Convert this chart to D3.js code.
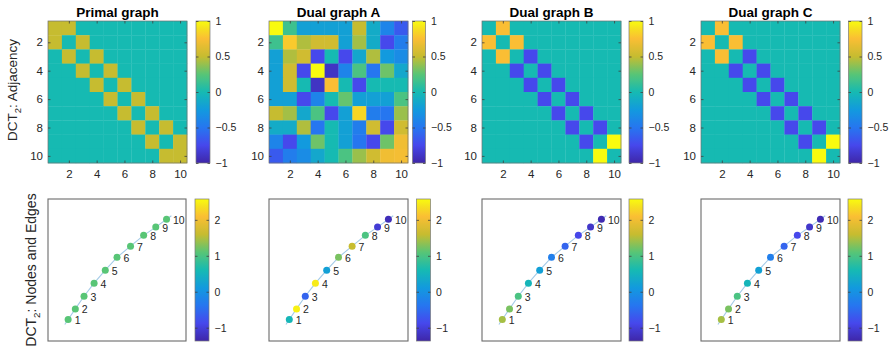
<!DOCTYPE html>
<html>
<head>
<meta charset="utf-8">
<script src="https://cdn.jsdelivr.net/npm/d3@7"></script>
<style>
  body { margin: 0; background: #fff; }
  svg { display: block; font-family: "Liberation Sans", Arial, Helvetica, sans-serif; }
</style>
</head>
<body>
<svg id="chart" width="891" height="349"></svg>
<script>
// ---- data ----
const panelTitles = ["Primal graph", "Dual graph A", "Dual graph B", "Dual graph C"];
const rowLabelTop = ["DCT", "2", ": Adjacency"];
const rowLabelBottom = ["DCT", "2", ": Nodes and Edges"];

const primalAdj = [
  [0.5, 0.5, 0, 0, 0, 0, 0, 0, 0, 0],
  [0.5, 0, 0.5, 0, 0, 0, 0, 0, 0, 0],
  [0, 0.5, 0, 0.5, 0, 0, 0, 0, 0, 0],
  [0, 0, 0.5, 0, 0.5, 0, 0, 0, 0, 0],
  [0, 0, 0, 0.5, 0, 0.5, 0, 0, 0, 0],
  [0, 0, 0, 0, 0.5, 0, 0.5, 0, 0, 0],
  [0, 0, 0, 0, 0, 0.5, 0, 0.5, 0, 0],
  [0, 0, 0, 0, 0, 0, 0.5, 0, 0.5, 0],
  [0, 0, 0, 0, 0, 0, 0, 0.5, 0, 0.5],
  [0, 0, 0, 0, 0, 0, 0, 0, 0.5, 0.5]
];
const dualAAdj = [
  [1.0, 0.15, -0.2, -0.2, -0.2, -0.2, 0.5, -0.12, -0.4, -0.65],
  [0.15, 0.8, 0.45, 0.55, 0.55, -0.2, 0.42, -0.12, -0.75, -0.45],
  [-0.2, 0.45, 0.55, -0.75, 0.0, -0.75, -0.15, 0.45, -0.25, -0.35],
  [-0.2, 0.55, -0.75, 1.0, -0.9, -0.4, 0.2, -0.5, 0.3, -0.15],
  [-0.2, 0.55, 0.0, -0.9, 0.75, 0.0, -0.75, 0.0, 0.0, 0.0],
  [-0.2, -0.2, -0.75, -0.4, 0.0, 0.28, -0.2, -0.2, -0.2, 0.2],
  [0.5, 0.42, -0.15, 0.2, -0.75, -0.2, 0.85, -0.45, -0.5, 0.4],
  [-0.12, -0.12, 0.45, -0.5, 0.0, -0.2, -0.45, 0.55, -0.75, 0.55],
  [-0.4, -0.75, -0.25, 0.3, 0.0, -0.2, -0.5, -0.75, 0.3, 0.7],
  [-0.65, -0.45, -0.35, -0.15, 0.0, 0.2, 0.4, 0.55, 0.7, 0.72]
];
const dualBAdj = [
  [0, 0.75, 0, 0, 0, 0, 0, 0, 0, 0],
  [0.75, 0, 0.75, 0, 0, 0, 0, 0, 0, 0],
  [0, 0.75, 0, -0.75, 0, 0, 0, 0, 0, 0],
  [0, 0, -0.75, 0, -0.75, 0, 0, 0, 0, 0],
  [0, 0, 0, -0.75, 0, -0.75, 0, 0, 0, 0],
  [0, 0, 0, 0, -0.75, 0, -0.75, 0, 0, 0],
  [0, 0, 0, 0, 0, -0.75, 0, -0.75, 0, 0],
  [0, 0, 0, 0, 0, 0, -0.75, 0, -0.75, 0],
  [0, 0, 0, 0, 0, 0, 0, -0.75, 0, 1],
  [0, 0, 0, 0, 0, 0, 0, 0, 1, 0]
];
const dualCAdj = [
  [0, 0.75, 0, 0, 0, 0, 0, 0, 0, 0],
  [0.75, 0, 0.75, 0, 0, 0, 0, 0, 0, 0],
  [0, 0.75, 0, -0.75, 0, 0, 0, 0, 0, 0],
  [0, 0, -0.75, 0, -0.75, 0, 0, 0, 0, 0],
  [0, 0, 0, -0.75, 0, -0.75, 0, 0, 0, 0],
  [0, 0, 0, 0, -0.75, 0, -0.75, 0, 0, 0],
  [0, 0, 0, 0, 0, -0.75, 0, -0.75, 0, 0],
  [0, 0, 0, 0, 0, 0, -0.75, 0, -0.75, 0],
  [0, 0, 0, 0, 0, 0, 0, -0.75, 0, 1],
  [0, 0, 0, 0, 0, 0, 0, 0, 1, 0]
];

const nodeIds = [1, 2, 3, 4, 5, 6, 7, 8, 9, 10];
const nodeX = [0.146, 0.198, 0.261, 0.334, 0.415, 0.500, 0.598, 0.693, 0.781, 0.859];
const nodeY = [0.151, 0.226, 0.315, 0.407, 0.499, 0.589, 0.668, 0.744, 0.802, 0.857];

const primalNodeVals = [1.1, 1.1, 1.1, 1.1, 1.1, 1.1, 1.1, 1.1, 1.1, 1.1];
const dualANodeVals = [0.55, 2.5, -0.58, 2.45, 0.2, 1.25, 1.6, 1.0, -1.05, -1.25];
const dualBNodeVals = [1.45, 1.25, 1.0, 0.53, 0.2, -0.26, -0.58, -0.9, -1.13, -1.3];
const dualCNodeVals = [1.45, 1.25, 1.0, 0.53, 0.22, -0.26, -0.58, -0.88, -1.12, -1.28];

const matTicks = [2, 4, 6, 8, 10];
const adjTicks = [-1, -0.5, 0, 0.5, 1];
const nodeTicks = [-1, 0, 1, 2];
const adjRange = [-1, 1];
const nodeRange = [-1.37, 2.58];

// ---- parula-like colormap ----
const parulaStops = [
  [0.000, "rgb(62,38,168)"],
  [0.125, "rgb(70,72,236)"],
  [0.250, "rgb(38,118,240)"],
  [0.375, "rgb(18,154,222)"],
  [0.500, "rgb(22,186,178)"],
  [0.625, "rgb(88,197,118)"],
  [0.750, "rgb(198,188,48)"],
  [0.875, "rgb(250,190,52)"],
  [0.950, "rgb(246,226,30)"],
  [1.000, "rgb(249,251,14)"]
];
const parula = d3.scaleLinear()
  .domain(parulaStops.map(d => d[0]))
  .range(parulaStops.map(d => d[1]))
  .interpolate(d3.interpolateRgb)
  .clamp(true);

// ---- layout ----
const top0 = 21, top1 = 163, bot0 = 199, bot1 = 341;
const panels = [
  {hx: [48, 187], cb: [196, 210], bx: [48, 186], bcb: [195, 209], adj: primalAdj, vals: primalNodeVals},
  {hx: [269, 408], cb: [412.5, 425.5], bx: [269, 408], bcb: [416.5, 430.5], adj: dualAAdj, vals: dualANodeVals},
  {hx: [482, 621], cb: [629, 643], bx: [482, 621], bcb: [629, 643], adj: dualBAdj, vals: dualBNodeVals},
  {hx: [701, 840], cb: [848.5, 862], bx: [701, 840], bcb: [848, 862], adj: dualCAdj, vals: dualCNodeVals}
];

const svg = d3.select("#chart");
const textCol = "#262626";

// shared gradient for colorbars
const grad = svg.append("defs").append("linearGradient")
  .attr("id", "parulaGrad")
  .attr("x1", 0).attr("y1", 1).attr("x2", 0).attr("y2", 0);
d3.range(0, 1.0001, 0.025).forEach(t => {
  grad.append("stop").attr("offset", t).attr("stop-color", parula(t));
});

function styleAxis(g, fs) {
  g.select(".domain").remove();
  g.selectAll(".tick line").attr("stroke", "#404040").attr("stroke-width", 0.8);
  g.selectAll(".tick text").attr("fill", textCol).style("font-size", fs + "px")
    .style("font-family", "'Liberation Sans', Arial, sans-serif");
}

function drawColorbar(x0, x1, y0, y1, range, ticks, fs) {
  const cy = d3.scaleLinear().domain(range).range([y1, y0]);
  svg.append("rect")
    .attr("x", x0).attr("y", y0).attr("width", x1 - x0).attr("height", y1 - y0)
    .attr("fill", "url(#parulaGrad)")
    .attr("stroke", "#7a7a7a").attr("stroke-width", 0.7);
  const ra = svg.append("g").attr("transform", `translate(${x1},0)`)
    .call(d3.axisRight(cy).tickValues(ticks).tickSizeInner(-2.5).tickSizeOuter(0).tickPadding(5.5)
      .tickFormat(d3.format("")));
  styleAxis(ra, fs);
  const la = svg.append("g").attr("transform", `translate(${x0},0)`)
    .call(d3.axisLeft(cy).tickValues(ticks).tickSizeInner(-2.5).tickSizeOuter(0).tickFormat(""));
  styleAxis(la, fs);
}

panels.forEach((p, i) => {
  // ---- adjacency heatmap ----
  const x = d3.scaleLinear().domain([0.5, 10.5]).range(p.hx);
  const y = d3.scaleLinear().domain([0.5, 10.5]).range([top0, top1]);
  const cval = d3.scaleLinear().domain(adjRange).range([0, 1]);
  const cells = [];
  p.adj.forEach((row, r) => row.forEach((v, c) => cells.push({r: r + 1, c: c + 1, v})));

  svg.append("g").selectAll("rect").data(cells).enter().append("rect")
    .attr("x", d => x(d.c - 0.5))
    .attr("y", d => y(d.r - 0.5))
    .attr("width", d => x(d.c + 0.5) - x(d.c - 0.5) + 0.3)
    .attr("height", d => y(d.r + 0.5) - y(d.r - 0.5) + 0.3)
    .attr("fill", d => parula(cval(d.v)));

  svg.append("rect")
    .attr("x", p.hx[0]).attr("y", top0)
    .attr("width", p.hx[1] - p.hx[0]).attr("height", top1 - top0)
    .attr("fill", "none").attr("stroke", "#707070").attr("stroke-width", 0.7);

  const xa = svg.append("g").attr("transform", `translate(0,${top1})`)
    .call(d3.axisBottom(x).tickValues(matTicks).tickSizeInner(-2.5).tickSizeOuter(0).tickPadding(7));
  styleAxis(xa, 11.5);
  const xt = svg.append("g").attr("transform", `translate(0,${top0})`)
    .call(d3.axisTop(x).tickValues(matTicks).tickSizeInner(-2.5).tickSizeOuter(0).tickFormat(""));
  styleAxis(xt, 11.5);
  const ya = svg.append("g").attr("transform", `translate(${p.hx[0]},0)`)
    .call(d3.axisLeft(y).tickValues(matTicks).tickSizeInner(-2.5).tickSizeOuter(0).tickPadding(5));
  styleAxis(ya, 11.5);
  const yr = svg.append("g").attr("transform", `translate(${p.hx[1]},0)`)
    .call(d3.axisRight(y).tickValues(matTicks).tickSizeInner(-2.5).tickSizeOuter(0).tickFormat(""));
  styleAxis(yr, 11.5);

  svg.append("text")
    .attr("x", (p.hx[0] + p.hx[1]) / 2).attr("y", 16.5)
    .attr("text-anchor", "middle")
    .style("font-size", "13.5px").style("font-weight", "bold").attr("fill", "#000")
    .text(panelTitles[i]);

  drawColorbar(p.cb[0], p.cb[1], top0, top1, adjRange, adjTicks, 10.5);

  // ---- nodes and edges ----
  const gx = d3.scaleLinear().domain([0, 1]).range(p.bx);
  const gy = d3.scaleLinear().domain([0, 1]).range([bot1, bot0]);
  const nc = d3.scaleLinear().domain(nodeRange).range([0, 1]);
  const nodes = nodeIds.map((id, k) => ({id, x: gx(nodeX[k]), y: gy(nodeY[k]), v: p.vals[k]}));

  svg.append("rect")
    .attr("x", p.bx[0]).attr("y", bot0)
    .attr("width", p.bx[1] - p.bx[0]).attr("height", bot1 - bot0)
    .attr("fill", "#fff").attr("stroke", "#6b6b6b").attr("stroke-width", 1.1);

  // self-loop stubs at both ends of the chain
  const first = nodes[0], second = nodes[1];
  const last = nodes[nodes.length - 1], prev = nodes[nodes.length - 2];
  function stub(a, b) {
    const dx = a.x - b.x, dy = a.y - b.y, len = Math.hypot(dx, dy);
    return {x: a.x + dx / len * 6, y: a.y + dy / len * 6};
  }
  const pts = [stub(first, second)].concat(nodes).concat([stub(last, prev)]);
  svg.append("path")
    .attr("d", d3.line().x(d => d.x).y(d => d.y)(pts))
    .attr("fill", "none").attr("stroke", "#a4cbe8").attr("stroke-width", 1.1);

  svg.append("g").selectAll("circle").data(nodes).enter().append("circle")
    .attr("cx", d => d.x).attr("cy", d => d.y).attr("r", 3.5)
    .attr("fill", d => parula(nc(d.v)));

  svg.append("g").selectAll("text").data(nodes).enter().append("text")
    .attr("x", d => d.x + 6.5).attr("y", d => d.y + 4.5)
    .attr("fill", textCol).style("font-size", "10.5px")
    .text(d => d.id);

  drawColorbar(p.bcb[0], p.bcb[1], bot0, bot1, nodeRange, nodeTicks, 10.5);
});

// ---- row labels ----
function rowLabel(cx, cy, parts, fs) {
  const t = svg.append("text")
    .attr("transform", `translate(${cx},${cy}) rotate(-90)`)
    .attr("text-anchor", "middle")
    .attr("fill", textCol).style("font-size", fs + "px");
  t.append("tspan").text(parts[0]);
  t.append("tspan").attr("dy", fs * 0.3).style("font-size", (fs * 0.7) + "px").text(parts[1]);
  t.append("tspan").attr("dy", -fs * 0.3).text(parts[2]);
}
rowLabel(17, 90, rowLabelTop, 13.5);
rowLabel(36, 270, rowLabelBottom, 14);
</script>
</body>
</html>
